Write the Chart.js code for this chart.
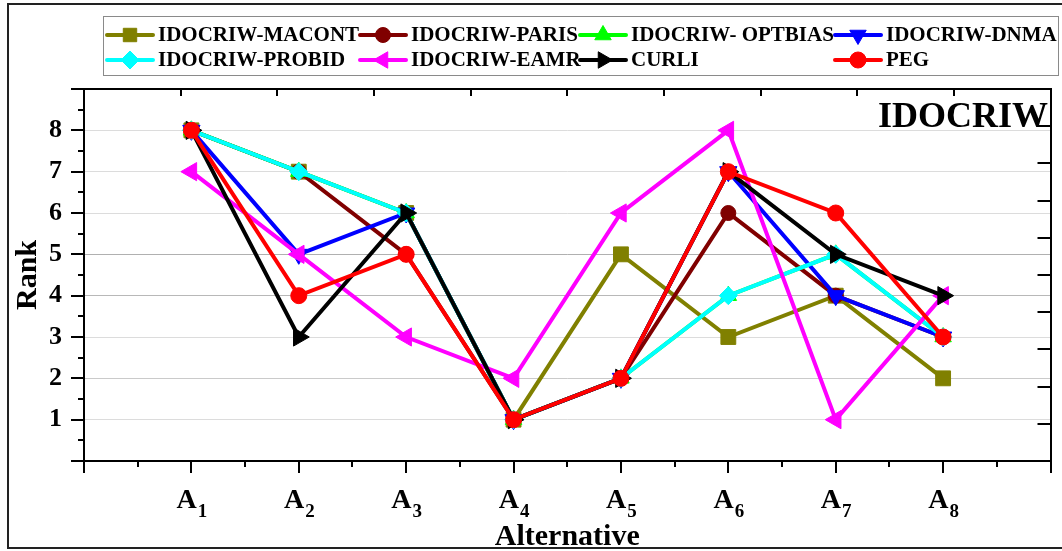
<!DOCTYPE html>
<html>
<head>
<meta charset="utf-8">
<script src="https://cdn.jsdelivr.net/npm/chart.js@4.4.1/dist/chart.umd.min.js"></script>
<style>
  html, body { margin: 0; padding: 0; background: #fff; overflow: hidden; }
  #wrap { width: 1062px; height: 551px; position: relative; }
</style>
</head>
<body>
<div id="wrap"><canvas id="c" width="1062" height="551"></canvas></div>
<script>
// Alternatives on the x axis
const categories = ['A1', 'A2', 'A3', 'A4', 'A5', 'A6', 'A7', 'A8'];

// Rank of each alternative under every weighting / ranking method
const macont  = [8, 7, 6, 1, 5, 3, 4, 2];
const paris   = [8, 7, 5, 1, 2, 6, 4, 3];
const optbias = [8, 7, 6, 1, 2, 4, 5, 3];
const dnma    = [8, 5, 6, 1, 2, 7, 4, 3];
const probid  = [8, 7, 6, 1, 2, 4, 5, 3];
const eamr    = [7, 5, 3, 2, 6, 8, 1, 4];
const curli   = [8, 3, 6, 1, 2, 7, 5, 4];
const peg     = [8, 4, 5, 1, 2, 7, 6, 3];

const seriesNames = ['IDOCRIW-MACONT', 'IDOCRIW-PARIS', 'IDOCRIW- OPTBIAS', 'IDOCRIW-DNMA',
                     'IDOCRIW-PROBID', 'IDOCRIW-EAMR', 'CURLI', 'PEG'];
const seriesValues = [macont, paris, optbias, dnma, probid, eamr, curli, peg];

// Rank axis ticks shown as labels
const rankTicks = [1, 2, 3, 4, 5, 6, 7, 8];
const panelTag = 'IDOCRIW';
const xTitle = 'Alternative';
const yTitle = 'Rank';

const FONT = '"Liberation Serif", "Times New Roman", serif';
Chart.defaults.font.family = FONT;

const styles = [
  { color: '#808000', pointStyle: 'rect',     rotation: 0,   radius: 10.5 },
  { color: '#800000', pointStyle: 'circle',   rotation: 0,   radius: 7.5 },
  { color: '#00ff00', pointStyle: 'triangle', rotation: 0,   radius: 9.5 },
  { color: '#0000ff', pointStyle: 'triangle', rotation: 180, radius: 10 },
  { color: '#00ffff', pointStyle: 'rectRot',  rotation: 0,   radius: 9 },
  { color: '#ff00ff', pointStyle: 'triangle', rotation: -90, radius: 10.5 },
  { color: '#000000', pointStyle: 'triangle', rotation: 90,  radius: 10.5 },
  { color: '#ff0000', pointStyle: 'circle',   rotation: 0,   radius: 8 }
];

// gridline shades along the rank axis
const gridShade = { 2: '#cacaca', 4: '#b8b8b8', 5: '#b0b0b0' };

const datasets = seriesNames.map((name, i) => ({
  label: name,
  data: seriesValues[i].map((v, j) => ({ x: j + 1, y: v })),
  borderColor: styles[i].color,
  backgroundColor: styles[i].color,
  pointBackgroundColor: styles[i].color,
  pointBorderColor: styles[i].color,
  pointStyle: styles[i].pointStyle,
  rotation: styles[i].rotation,
  pointRadius: styles[i].radius,
  pointHoverRadius: styles[i].radius,
  pointBorderWidth: 1,
  borderWidth: 4,
  tension: 0,
  fill: false,
  clip: false,
  // later series are painted above earlier ones
  order: seriesNames.length - 1 - i
}));

const decorPlugin = {
  id: 'decor',
  beforeDraw(chart) {
    const ctx = chart.ctx;
    ctx.save();
    ctx.fillStyle = '#ffffff';
    ctx.fillRect(0, 0, chart.width, chart.height);
    ctx.strokeStyle = '#222';
    ctx.lineWidth = 2;
    ctx.strokeRect(8, 4, 1070, 544);
    ctx.restore();
  },
  afterDraw(chart) {
    const { ctx, chartArea: a, scales } = chart;
    ctx.save();
    ctx.strokeStyle = '#000';
    ctx.lineWidth = 2;
    const line = (x1, y1, x2, y2) => { ctx.beginPath(); ctx.moveTo(x1, y1); ctx.lineTo(x2, y2); ctx.stroke(); };

    // left axis: outward major + minor ticks
    const ys = scales.y;
    for (let v = ys.min; v <= ys.max + 1e-9; v += 0.5) {
      const p = Math.round(ys.getPixelForValue(v));
      line(a.left - (Number.isInteger(v) ? 13 : 6), p, a.left, p);
    }
    // bottom axis: outward major + minor ticks
    const xs = scales.x;
    for (let v = xs.min; v <= xs.max + 1e-9; v += 0.5) {
      const p = Math.round(xs.getPixelForValue(v));
      line(p, a.bottom, p, a.bottom + (Number.isInteger(v) ? 12 : 6));
    }
    // right axis: inward ticks
    const y2 = scales.y2;
    for (let v = y2.min + 1; v < y2.max; v += 1) {
      const p = Math.round(y2.getPixelForValue(v));
      line(a.right - 13, p, a.right, p);
    }
    // top axis: inward ticks
    const x2 = scales.x2;
    for (let v = x2.min + 1; v < x2.max; v += 1) {
      const p = Math.round(x2.getPixelForValue(v));
      line(p, a.top, p, a.top + 7);
    }

    // category labels with subscripts
    ctx.fillStyle = '#000';
    ctx.textBaseline = 'alphabetic';
    ctx.textAlign = 'left';
    categories.forEach((c, i) => {
      const m = c.match(/^([^0-9]+)([0-9]+)$/);
      const base = m ? m[1] : c, sub = m ? m[2] : '';
      const x = xs.getPixelForValue(i + 1);
      ctx.font = 'bold 28px ' + FONT;
      const wb = ctx.measureText(base).width;
      ctx.font = 'bold 19px ' + FONT;
      const wsub = ctx.measureText(sub).width;
      const x0 = x - (wb + wsub) / 2;
      ctx.font = 'bold 28px ' + FONT;
      ctx.fillText(base, x0, 508);
      ctx.font = 'bold 19px ' + FONT;
      ctx.fillText(sub, x0 + wb + 1, 517);
    });

    // axis titles
    ctx.font = 'bold 30px ' + FONT;
    ctx.textAlign = 'center';
    ctx.fillText(xTitle, (a.left + a.right) / 2, 545);
    ctx.save();
    ctx.translate(36, 275);
    ctx.rotate(-Math.PI / 2);
    ctx.font = 'bold 30px ' + FONT;
    ctx.textAlign = 'center';
    ctx.fillText(yTitle, 0, 0);
    ctx.restore();

    // panel tag
    ctx.font = 'bold 36px ' + FONT;
    ctx.textAlign = 'right';
    ctx.fillText(panelTag, 1048, 127);

    // legend
    ctx.fillStyle = '#fff';
    ctx.fillRect(103.5, 16.5, 955, 59);
    ctx.strokeStyle = '#8a8a8a';
    ctx.lineWidth = 1;
    ctx.strokeRect(103.5, 16.5, 955, 59);
    const colX = [105, 358, 578, 833];
    const rowY = [35, 60];
    chart.data.datasets.forEach((ds, i) => {
      const cx = colX[i % 4], cy = rowY[Math.floor(i / 4)];
      ctx.strokeStyle = ds.borderColor;
      ctx.lineWidth = 4;
      ctx.lineCap = 'round';
      line(cx + 2, cy, cx + 48, cy);
      ctx.lineCap = 'butt';
      ctx.fillStyle = ds.pointBackgroundColor;
      ctx.strokeStyle = ds.pointBorderColor;
      ctx.lineWidth = 1;
      Chart.helpers.drawPoint(ctx, {
        pointStyle: ds.pointStyle, rotation: ds.rotation,
        radius: Math.min(ds.pointRadius, 9.5), borderWidth: 1
      }, cx + 25, cy);
      ctx.fillStyle = '#000';
      ctx.font = 'bold 21px ' + FONT;
      ctx.textAlign = 'left';
      ctx.textBaseline = 'middle';
      ctx.fillText(ds.label, cx + 53, cy + 1);
    });
    ctx.restore();
  }
};

new Chart(document.getElementById('c'), {
  type: 'line',
  data: { datasets },
  options: {
    responsive: false,
    animation: false,
    events: [],
    layout: { padding: { top: 89, right: 6, left: 0, bottom: 0 } },
    plugins: { legend: { display: false }, tooltip: { enabled: false } },
    scales: {
      x: {
        type: 'linear', position: 'bottom', min: 0, max: 9,
        ticks: { display: false, stepSize: 1 },
        grid: { display: false, drawTicks: false },
        border: { display: true, color: '#000', width: 2 },
        afterFit: s => { s.height = 90; }
      },
      x2: {
        type: 'linear', position: 'top', min: 0, max: 10,
        ticks: { display: false, stepSize: 1 },
        grid: { display: false, drawTicks: false },
        border: { display: true, color: '#000', width: 2 },
        afterFit: s => { s.height = 0; }
      },
      y: {
        type: 'linear', position: 'left', min: 0, max: 9,
        ticks: {
          stepSize: 1, padding: 22, color: '#000',
          font: { size: 26, weight: 'bold', family: FONT },
          callback: v => rankTicks.includes(v) ? String(v) : ''
        },
        grid: {
          drawTicks: false,
          lineWidth: 1,
          color: ctx => {
            if (!ctx.tick || !rankTicks.includes(ctx.tick.value)) return 'rgba(0,0,0,0)';
            return gridShade[ctx.tick.value] || '#dcdcdc';
          }
        },
        border: { display: true, color: '#000', width: 2 },
        afterFit: s => { s.width = 84; }
      },
      y2: {
        type: 'linear', position: 'right', min: 0, max: 10,
        ticks: { display: false, stepSize: 1 },
        grid: { display: false, drawTicks: false },
        border: { display: true, color: '#000', width: 2 },
        afterFit: s => { s.width = 0; }
      }
    }
  },
  plugins: [decorPlugin]
});
</script>
</body>
</html>
